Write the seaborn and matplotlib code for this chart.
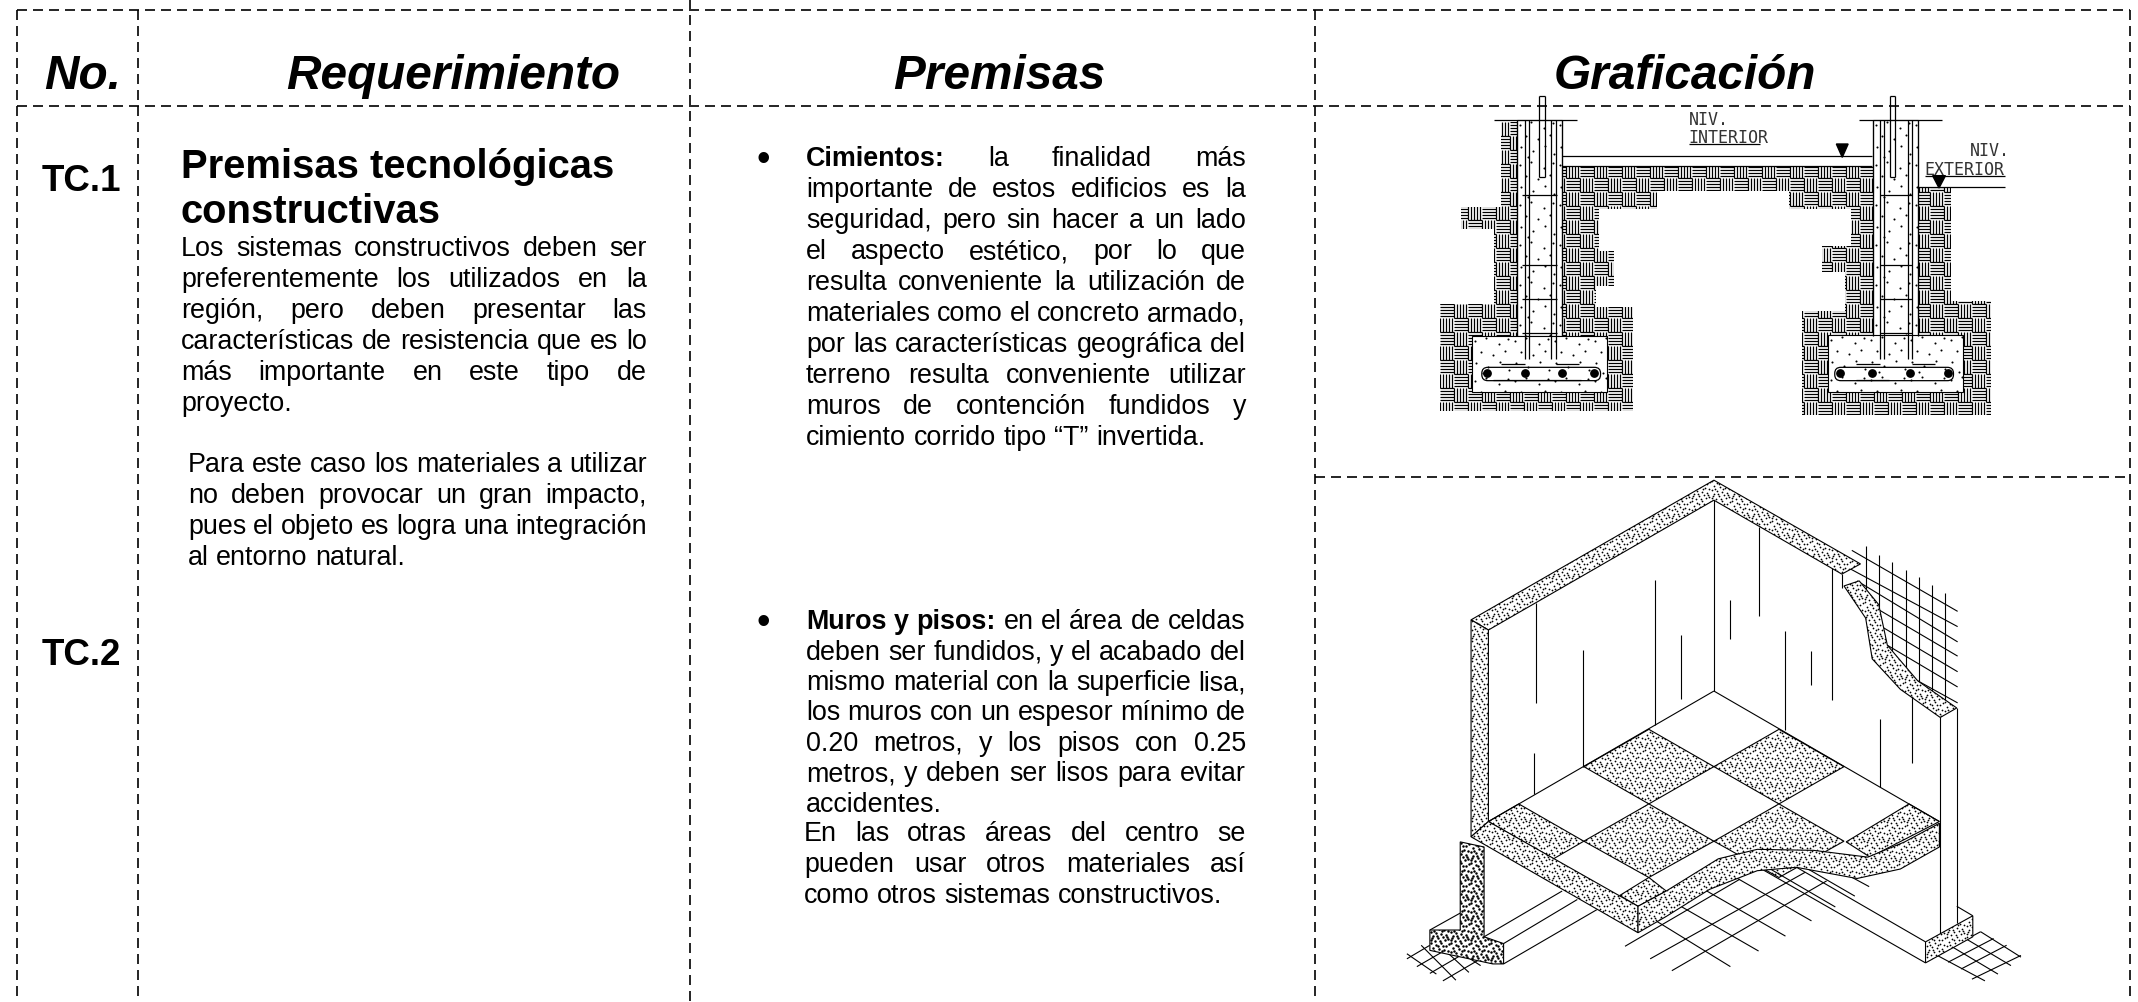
import matplotlib
matplotlib.use('Agg')
import matplotlib.pyplot as plt
import pandas as pd
import seaborn as sns
from matplotlib.collections import LineCollection
from matplotlib.patches import Polygon, FancyBboxPatch

# encabezados y textos de la tabla
encabezados = ['No.', 'Requerimiento', 'Premisas', 'Graficación']
encabezados_x = [44, 286, 893, 1554]
codigos = ['TC.1', 'TC.2']
codigos_y = [191, 665]
titulo = ['Premisas tecnológicas', 'constructivas']
req_1 = ['Los sistemas constructivos deben ser', 'preferentemente los utilizados en la',
         'región, pero deben presentar las', 'características de resistencia que es lo',
         'más importante en este tipo de', 'proyecto.']
req_2 = ['Para este caso los materiales a utilizar', 'no deben provocar un gran impacto,',
         'pues el objeto es logra una integración', 'al entorno natural.']
cimientos = ['Cimientos: la finalidad más', 'importante de estos edificios es la',
             'seguridad, pero sin hacer a un lado', 'el aspecto estético, por lo que',
             'resulta conveniente la utilización de', 'materiales como el concreto armado,',
             'por las características geográfica del', 'terreno resulta conveniente utilizar',
             'muros de contención fundidos y', 'cimiento corrido tipo “T” invertida.']
muros = ['Muros y pisos: en el área de celdas', 'deben ser fundidos, y el acabado del',
         'mismo material con la superficie lisa,', 'los muros con un espesor mínimo de',
         '0.20 metros,  y los pisos con 0.25', 'metros, y deben ser lisos para evitar',
         'accidentes.']
muros_2 = ['En las otras áreas del centro se', 'pueden usar otros materiales así',
           'como otros sistemas constructivos.']

# lineas de la tabla: (x0, y0, x1, y1)
reglas = [(17, 11, 2130, 11), (17, 107, 2130, 107), (1315, 478, 2130, 478),
          (17, 11, 17, 1003), (138, 11, 138, 1003), (690, 0, 690, 1003),
          (1315, 11, 1315, 1003), (2130, 11, 2130, 1003)]

# detalle 1, cimientos
suelo = [(375, 100), (490, 100), (490, 235), (1155, 235), (1155, 295), (1218, 295), (1218, 635),
         (1292, 635), (1292, 978), (938, 978), (938, 665), (1020, 665), (1020, 550), (977, 550),
         (977, 472), (1030, 472), (1030, 360), (915, 360), (915, 305), (667, 305), (667, 360),
         (560, 360), (560, 487), (587, 487), (587, 590), (553, 590), (553, 655), (622, 655),
         (622, 965), (262, 965), (262, 645), (362, 645), (362, 420), (302, 420), (302, 355),
         (375, 355)]
concreto = [[(405, 92), (490, 92), (490, 740), (405, 740)],
            [(1072, 92), (1155, 92), (1155, 740), (1072, 740)],
            [(322, 740), (575, 740), (575, 908), (322, 908)],
            [(987, 738), (1240, 738), (1240, 908), (987, 908)]]
lineas_1 = [(362, 92, 518, 92), (1045, 92, 1200, 92), (490, 200, 1070, 200), (490, 232, 1070, 232),
            (1155, 295, 1318, 295), (727, 165, 860, 165), (1168, 260, 1318, 260),
            (405, 92, 405, 740), (490, 92, 490, 740), (1072, 92, 1072, 740), (1155, 92, 1155, 740),
            (420, 92, 420, 810), (428, 92, 428, 810), (470, 92, 470, 810), (478, 92, 478, 810),
            (1085, 92, 1085, 810), (1092, 92, 1092, 810), (1137, 92, 1137, 810), (1145, 92, 1145, 810),
            (447, 20, 447, 265), (458, 20, 458, 265), (1103, 20, 1103, 265), (1112, 20, 1112, 265),
            (447, 20, 458, 20), (1103, 20, 1112, 20), (447, 265, 458, 265), (1103, 265, 1112, 265),
            (415, 318, 480, 318), (415, 527, 480, 527), (415, 630, 480, 630), (415, 732, 480, 732),
            (1085, 318, 1145, 318), (1085, 527, 1145, 527), (1085, 630, 1145, 630), (1085, 732, 1145, 732),
            (375, 826, 420, 826), (478, 826, 522, 826), (1040, 826, 1085, 826), (1145, 826, 1188, 826),
            (360, 872, 525, 872), (1040, 872, 1102, 872)]
estribos = [(340, 835, 222, 40), (1000, 835, 222, 40)]
varillas = [(350, 853), (420, 853), (490, 853), (550, 853), (1010, 853), (1070, 853), (1140, 853), (1212, 853)]
flechas = [[(1003, 165), (1025, 165), (1014, 205)], [(1183, 260), (1207, 260), (1195, 297)]]
rotulos = [('NIV.', 727, 105), ('INTERIOR', 727, 160), ('NIV.', 1252, 198), ('EXTERIOR', 1168, 255)]

# detalle 2, muros y pisos
losetas = [[(620, 768), (770, 878), (620, 988), (470, 878)], [(920, 768), (1070, 878), (920, 988), (770, 878)],
           [(620, 988), (770, 1098), (620, 1205), (470, 1098)], [(920, 988), (1070, 1098), (920, 1205), (770, 1098)],
           [(320, 988), (470, 1098), (400, 1150), (250, 1040)], [(1220, 988), (1290, 1040), (1130, 1145), (1075, 1100)],
           [(620, 1205), (660, 1245), (595, 1290), (553, 1258)]]
cortes = [[(210, 445), (770, 33), (1108, 280), (1065, 310), (770, 92), (250, 475)],
          [(210, 445), (250, 475), (250, 1040), (210, 1085)],
          [(210, 1085), (250, 1040), (595, 1290), (595, 1368)],
          [(595, 1290), (660, 1245), (780, 1150), (870, 1122), (1000, 1125), (1125, 1145), (1210, 1100), (1290, 1045),
           (1290, 1115), (1200, 1180), (1100, 1208), (960, 1175), (870, 1185), (760, 1240), (660, 1320), (595, 1368)],
          [(1070, 345), (1105, 330), (1150, 400), (1170, 520), (1240, 625), (1330, 705), (1292, 733), (1200, 650),
           (1135, 560), (1120, 440)],
          [(1258, 1395), (1367, 1318), (1367, 1380), (1258, 1457)]]
zapata = [(185, 1100), (240, 1115), (240, 1380), (285, 1400), (285, 1460), (260, 1460), (115, 1420), (115, 1360), (185, 1360)]
verticales = [(359, 395, 690), (355, 838, 960), (469, 535, 878), (634, 328, 755), (694, 490, 678), (875, 170, 435),
              (807, 385, 502), (933, 477, 770), (994, 538, 638), (1043, 285, 680), (1226, 660, 868), (1153, 738, 938),
              (770, 92, 655), (1292, 733, 1375), (1330, 705, 1340), (1065, 310, 350),
              (1120, 228, 370), (1151, 254, 410), (1181, 275, 580), (1212, 297, 610), (1242, 320, 640),
              (1272, 342, 660), (1302, 365, 680)]
lineas_2 = [(770, 655, 250, 1040), (770, 655, 1290, 1040), (1258, 1395, 900, 1130), (1258, 1457, 880, 1180),
            (1330, 1290, 1367, 1318), (115, 1360, 185, 1310), (240, 1380, 420, 1245), (285, 1400, 455, 1270),
            (285, 1460, 500, 1300), (1088, 240, 1332, 420), (1085, 295, 1332, 465), (1100, 330, 1332, 510),
            (1130, 400, 1332, 552), (1150, 460, 1332, 598), (1170, 520, 1332, 643), (1205, 600, 1332, 690),
            (565, 1408, 830, 1210), (623, 1445, 980, 1190), (673, 1480, 1030, 1215),
            (808, 1468, 620, 1320), (873, 1422, 680, 1280), (935, 1378, 740, 1235), (995, 1333, 800, 1190),
            (1050, 1292, 880, 1165), (1095, 1260, 960, 1160), (1128, 1232, 1060, 1185),
            (62, 1445, 115, 1405), (85, 1468, 150, 1420), (115, 1488, 190, 1432), (145, 1510, 232, 1445),
            (95, 1405, 175, 1508), (62, 1430, 130, 1490), (150, 1420, 205, 1485), (190, 1430, 232, 1465),
            (1290, 1430, 1385, 1365), (1310, 1455, 1415, 1385), (1340, 1475, 1445, 1405), (1365, 1505, 1478, 1435),
            (1285, 1435, 1395, 1510), (1320, 1410, 1425, 1490), (1350, 1385, 1455, 1465), (1385, 1365, 1478, 1440)]

# grano del concreto: puntos de una baldosa que se repite
grano_ralo = [(3, 5), (14, 2), (27, 8), (36, 3), (9, 16), (21, 19), (33, 15), (4, 27), (16, 31), (28, 26), (37, 34), (11, 37)]
grano_denso = [(1, 1), (6, 3), (11, 1), (16, 4), (3, 6), (9, 7), (14, 8), (18, 9), (1, 10), (6, 11), (11, 12), (16, 13),
               (3, 14), (8, 16), (13, 15), (18, 17), (1, 18), (5, 19), (10, 19), (15, 18), (4, 9), (8, 4), (13, 4),
               (19, 2), (12, 9), (7, 14), (17, 15), (2, 16)]

sns.set_theme(style='white')
plt.rcParams['font.family'] = ['Liberation Sans', 'DejaVu Sans']

fig = plt.figure(figsize=(21.38, 10.03), dpi=100)
ax = fig.add_axes([0, 0, 1, 1])


def det1(p):
    return (1300 + p[0] / 1.87, 90 + p[1] / 3)


def det2(p):
    return (1380 + p[0] / 2.306, 470 + p[1] / 2.95)


def trazos(segmentos, conv, lw=0.8):
    segs = [[conv(s[:2]), conv(s[2:])] for s in segmentos]
    ax.add_collection(LineCollection(segs, colors='black', linewidths=lw, zorder=5))


def punteado(puntos, conv, grano, lado, s, z=3):
    pts = [conv(p) for p in puntos]
    borde = Polygon(pts, closed=True, facecolor='white', edgecolor='black', linewidth=0.8, zorder=z)
    ax.add_patch(borde)
    xs, ys = zip(*pts)
    px, py = [], []
    for i in range(int((max(xs) - min(xs)) / lado) + 1):
        for j in range(int((max(ys) - min(ys)) / lado) + 1):
            for gx, gy in grano:
                px.append(min(xs) + i * lado + gx)
                py.append(min(ys) + j * lado + gy)
    nube = ax.scatter(px, py, s=s, color='black', linewidths=0, zorder=z + 0.1)
    nube.set_clip_path(borde)


def tejido(puntos, conv):
    # relleno de suelo: cuadros alternos de rayas horizontales y verticales
    pts = [conv(p) for p in puntos]
    borde = Polygon(pts, closed=True, facecolor='white', edgecolor='none', zorder=1)
    ax.add_patch(borde)
    xs, ys = zip(*pts)
    lado, paso = 14, 3
    segs = []
    for i in range(int((max(xs) - min(xs)) / lado) + 1):
        for j in range(int((max(ys) - min(ys)) / lado) + 1):
            x0, y0 = min(xs) + i * lado, min(ys) + j * lado
            for k in range(0, lado, paso):
                if (i + j) % 2:
                    segs.append([(x0, y0 + k), (x0 + lado, y0 + k)])
                else:
                    segs.append([(x0 + k, y0), (x0 + k, y0 + lado)])
    lc = LineCollection(segs, colors='black', linewidths=0.9, zorder=2)
    ax.add_collection(lc)
    lc.set_clip_path(borde)


def renglon(x0, x1, y, texto, justificar=True, negritas=0, size=19.4):
    # un renglon justificado, palabra por palabra
    palabras = texto.split()
    objetos = [ax.text(0, y, p, fontsize=size, va='baseline', color='black', zorder=6,
                       fontweight='bold' if n < negritas else 'normal') for n, p in enumerate(palabras)]
    r = fig.canvas.get_renderer()
    anchos = [t.get_window_extent(r).width for t in objetos]
    if justificar and len(palabras) > 1:
        hueco = (x1 - x0 - sum(anchos)) / (len(palabras) - 1)
    else:
        hueco = size * 100 / 72 * 0.278
    x = x0
    for t, a in zip(objetos, anchos):
        t.set_x(x)
        x += a + hueco


# reglas de la tabla con seaborn
tabla = pd.DataFrame([{'id': n, 'x': v, 'y': w} for n, r in enumerate(reglas)
                      for v, w in [(r[0], r[1]), (r[2], r[3])]])
sns.lineplot(data=tabla, x='x', y='y', units='id', estimator=None, sort=False, color='black',
             linewidth=1.2, linestyle=(0, (6, 3.6)), legend=False, ax=ax, zorder=4)

for texto, x in zip(encabezados, encabezados_x):
    ax.text(x, 89, texto, fontsize=34.4, fontweight='bold', fontstyle='italic', va='baseline', color='black')
for texto, y in zip(codigos, codigos_y):
    ax.text(42, y, texto, fontsize=26.5, fontweight='bold', va='baseline', color='black')
for n, texto in enumerate(titulo):
    ax.text(181, 178 + n * 45, texto, fontsize=28.8, fontweight='bold', va='baseline', color='black')

for n, texto in enumerate(req_1):
    renglon(181, 647, 256 + n * 31, texto, justificar=n < 5)
for n, texto in enumerate(req_2):
    renglon(188, 647, 472 + n * 31, texto, justificar=n < 3)
for n, texto in enumerate(cimientos):
    renglon(806, 1246, 166 + n * 31, texto, justificar=n < 9, negritas=1 if n == 0 else 0)
for n, texto in enumerate(muros):
    renglon(806, 1246, 629 + n * 30.5, texto, justificar=n < 6, negritas=3 if n == 0 else 0)
for n, texto in enumerate(muros_2):
    renglon(804, 1246, 841 + n * 31, texto, justificar=n < 2)
for y in [171, 634]:
    ax.text(763, y, '•', fontsize=28, ha='center', va='baseline', color='black')

# detalle 1
tejido(suelo, det1)
for c in concreto:
    punteado(c, det1, grano_ralo, 40, 2.2)
trazos(lineas_1, det1, lw=0.9)
for x, y, w, h in estribos:
    (px, py), (qx, qy) = det1((x, y)), det1((x + w, y + h))
    ax.add_patch(FancyBboxPatch((px, py), qx - px, qy - py, boxstyle='round,pad=0,rounding_size=6',
                                facecolor='none', edgecolor='black', linewidth=0.9, zorder=5))
ax.scatter(*zip(*[det1(v) for v in varillas]), s=28, color='black', zorder=6)
for f in flechas:
    ax.add_patch(Polygon([det1(p) for p in f], closed=True, color='black', zorder=6))
for texto, x, y in rotulos:
    px, py = det1((x, y))
    ax.text(px, py, texto, fontsize=12, family='DejaVu Sans Mono', va='baseline', color='black', alpha=0.8, zorder=6)

# detalle 2
for d in losetas:
    punteado(d, det2, grano_denso, 20, 1.6)
trazos(lineas_2, det2)
trazos([(x, a, x, b) for x, a, b in verticales], det2)
for c in cortes:
    punteado(c, det2, grano_denso, 20, 1.6, z=5.5)
punteado(zapata, det2, grano_denso, 20, 3.2, z=5.5)

ax.set_xlim(0, 2138)
ax.set_ylim(1003, 0)
ax.set_axis_off()
plt.savefig('out.png', dpi=100, facecolor='white')
